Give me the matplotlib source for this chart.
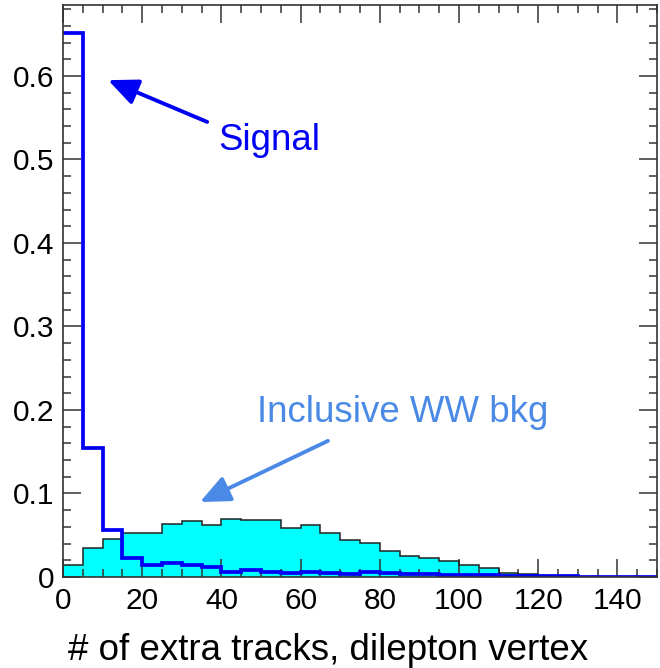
import numpy as np
import matplotlib
matplotlib.use("Agg")
import matplotlib.pyplot as plt

# ---- data ----
bin_edges = list(range(0, 155, 5))
signal = [0.651, 0.154, 0.056, 0.023, 0.014, 0.0164, 0.0144, 0.0116, 0.0064, 0.0084,
          0.0064, 0.0048, 0.0064, 0.0050, 0.0036, 0.0064, 0.0050, 0.0036, 0.0036, 0.0024,
          0.0024, 0.0024, 0.0006, 0.0016, 0.0016, 0.0016, 0.0004, 0.0004, 0.0004, 0.0004]
ww_bkg = [0.0140, 0.0343, 0.0460, 0.0523, 0.0523, 0.0630, 0.0675, 0.0623, 0.0695, 0.0683,
          0.0683, 0.0590, 0.0623, 0.0523, 0.0443, 0.0410, 0.0313, 0.0255, 0.0223, 0.0192,
          0.0144, 0.0104, 0.0052, 0.0036, 0.0, 0.0, 0.0, 0.0, 0.0, 0.0]
x_ticks = [0, 20, 40, 60, 80, 100, 120, 140]
x_tick_labels = ["0", "20", "40", "60", "80", "100", "120", "140"]
y_ticks = [0, 0.1, 0.2, 0.3, 0.4, 0.5, 0.6]
y_tick_labels = ["0", "0.1", "0.2", "0.3", "0.4", "0.5", "0.6"]
x_label = "# of extra tracks, dilepton vertex"
signal_label = "Signal"
bkg_label = "Inclusive WW bkg"

plt.rcParams['font.family'] = ['Liberation Sans', 'DejaVu Sans']

fig = plt.figure(figsize=(6.6, 6.68), dpi=100)
ax = fig.add_axes([63/660, 91/668, 594/660, 572/668])

edges = np.array(bin_edges, dtype=float)
ax.stairs(ww_bkg, edges, fill=True, color="#00FFFF", zorder=1)
ax.stairs(ww_bkg, edges, color="#222222", lw=1.1, zorder=2)
ax.stairs(signal, edges, baseline=None, color="#0000F5", lw=2.7, zorder=3)

ax.set_xlim(0, 150)
ax.set_ylim(0, 0.685)

ax.set_xticks(x_ticks, x_tick_labels)
ax.set_yticks(y_ticks, y_tick_labels)
ax.set_xticks(np.arange(0, 151, 5), minor=True)
ax.set_yticks(np.arange(0, 0.685, 0.02), minor=True)

spine_c = "#333333"
for s in ax.spines.values():
    s.set_color(spine_c)
    s.set_linewidth(1.2)
    s.set_zorder(5)
ax.tick_params(which='both', direction='in', top=True, right=True, color=spine_c, width=1.1)
ax.tick_params(which='major', length=13, labelsize=21.5, pad=6)
ax.tick_params(which='minor', length=6)
ax.tick_params(axis='x', which='major', pad=7)

ax.set_xlabel(x_label, fontsize=26.5)
ax.xaxis.label.set_va('baseline')
ax.xaxis.set_label_coords(0.447, -0.145)

sig_c = "#0000F5"
bkg_c = "#4A8AE6"
ax.text(39.1, 0.511, signal_label, color=sig_c, fontsize=26.4, va='baseline', ha='left')
ax.annotate('', xy=(11.4, 0.595), xytext=(36.4, 0.545),
            arrowprops=dict(arrowstyle='-|>,head_length=0.72,head_width=0.32',
                            mutation_scale=25, lw=2.8, color=sig_c,
                            shrinkA=0, shrinkB=0))
ax.text(49.0, 0.1856, bkg_label, color=bkg_c, fontsize=26.4, va='baseline', ha='left')
ax.annotate('', xy=(34.6, 0.0898), xytext=(66.9, 0.163),
            arrowprops=dict(arrowstyle='-|>,head_length=0.72,head_width=0.32',
                            mutation_scale=25, lw=2.8, color=bkg_c,
                            shrinkA=0, shrinkB=0))

fig.savefig("out.png", dpi=100)
